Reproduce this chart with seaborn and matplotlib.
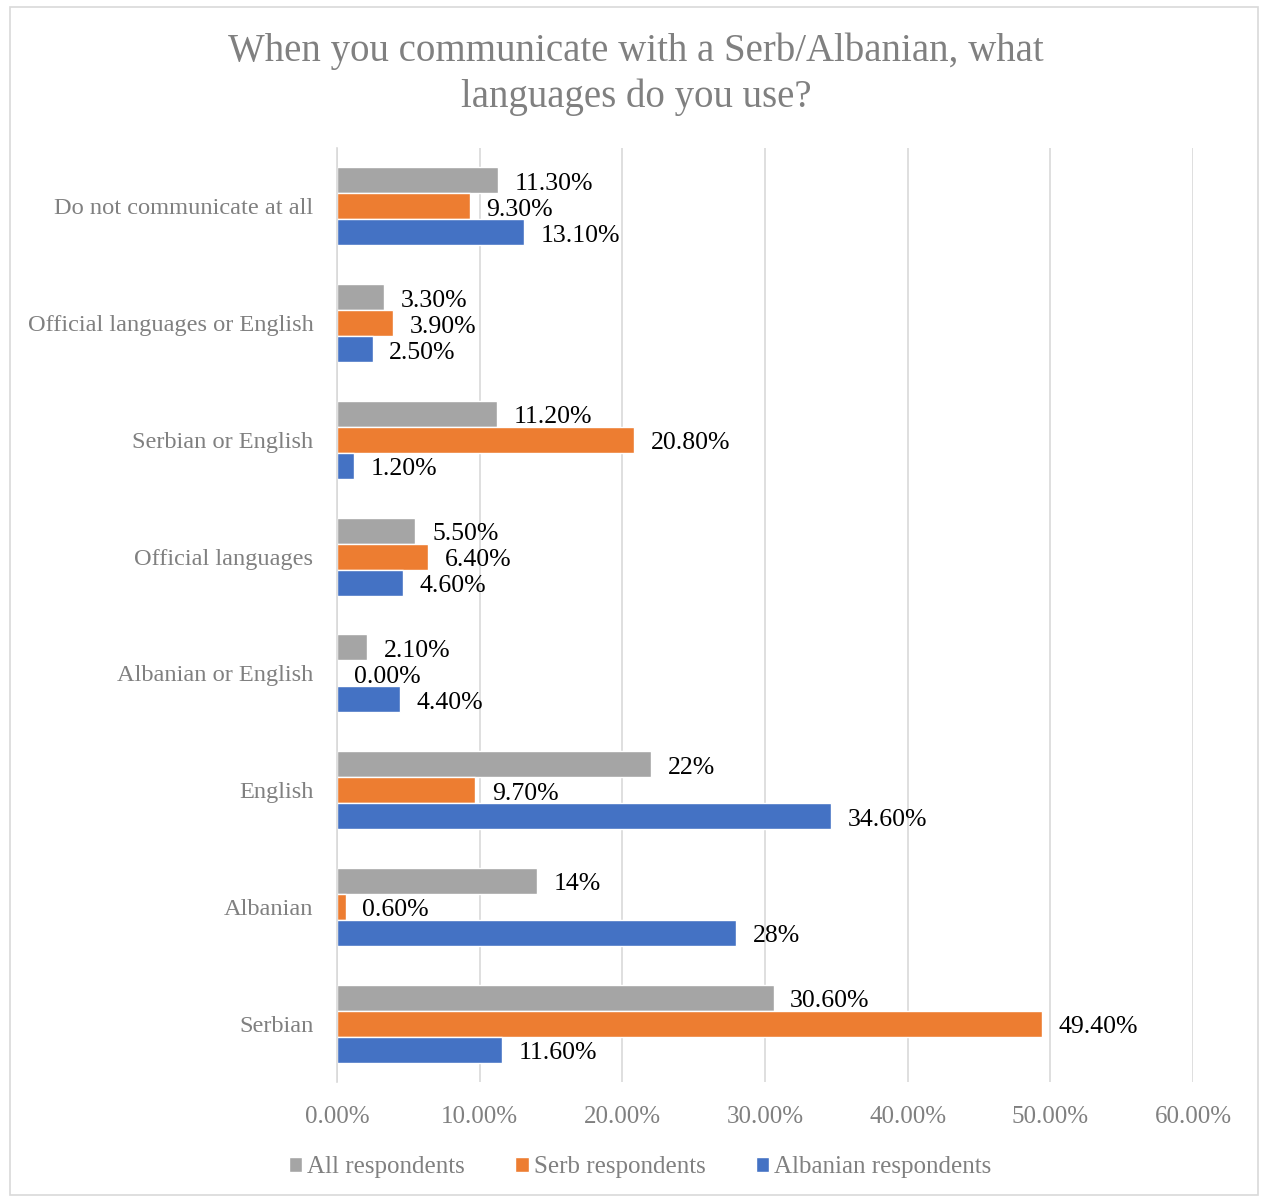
import matplotlib
matplotlib.use("Agg")
import matplotlib.pyplot as plt
from matplotlib.patches import Rectangle
import seaborn as sns
import pandas as pd

categories = [
    "Do not communicate at all",
    "Official languages or English",
    "Serbian or English",
    "Official languages",
    "Albanian or English",
    "English",
    "Albanian",
    "Serbian",
]
series_names = ["All respondents", "Serb respondents", "Albanian respondents"]
all_resp = [11.3, 3.3, 11.2, 5.5, 2.1, 22.0, 14.0, 30.6]
serb_resp = [9.3, 3.9, 20.8, 6.4, 0.0, 9.7, 0.6, 49.4]
alb_resp = [13.1, 2.5, 1.2, 4.6, 4.4, 34.6, 28.0, 11.6]
all_labels = ["11.30%", "3.30%", "11.20%", "5.50%", "2.10%", "22%", "14%", "30.60%"]
serb_labels = ["9.30%", "3.90%", "20.80%", "6.40%", "0.00%", "9.70%", "0.60%", "49.40%"]
alb_labels = ["13.10%", "2.50%", "1.20%", "4.60%", "4.40%", "34.60%", "28%", "11.60%"]
x_ticks = [0, 10, 20, 30, 40, 50, 60]
x_tick_labels = ["0.00%", "10.00%", "20.00%", "30.00%", "40.00%", "50.00%", "60.00%"]
colors = ["#A5A5A5", "#ED7D31", "#4472C4"]

df = pd.DataFrame({
    "category": categories * 3,
    "series": [series_names[0]] * 8 + [series_names[1]] * 8 + [series_names[2]] * 8,
    "value": all_resp + serb_resp + alb_resp,
})

sns.set_theme(style="white")
plt.rcParams["font.family"] = ["Liberation Serif", "DejaVu Serif"]

fig = plt.figure(figsize=(12.62, 12), dpi=100)
ax = fig.add_axes([337 / 1262, 1 - 1082 / 1200, (1193 - 337) / 1262, (1082 - 148) / 1200])

sns.barplot(data=df, y="category", x="value", hue="series", order=categories,
            hue_order=series_names, palette=colors, width=0.667, orient="h",
            saturation=1, ax=ax, legend=True)

# value labels at the end of each bar, nudged slightly downward
for container, labels in zip(ax.containers, [all_labels, serb_labels, alb_labels]):
    texts = ax.bar_label(container, labels=labels, padding=12, fontsize=18.5, color="black")
    for t in texts:
        dx, dy = t.xyann
        t.xyann = (dx, dy - 2.5)

ax.set_xlim(0, 60)
ax.set_xticks(x_ticks)
ax.set_xticklabels(x_tick_labels, fontsize=18, color="#808080")
ax.tick_params(axis="y", labelsize=17.6, labelcolor="#808080", pad=17, length=0)
ax.tick_params(axis="x", pad=17, length=0)
ax.set_xlabel("")
ax.set_ylabel("")
ax.grid(axis="x", color="#D9D9D9", linewidth=1.2)
ax.set_axisbelow(True)
for s in ["top", "right", "bottom"]:
    ax.spines[s].set_visible(False)
ax.spines["left"].set_color("#D9D9D9")
ax.spines["left"].set_linewidth(1.2)

handles, labels = ax.get_legend_handles_labels()
ax.get_legend().remove()
fig.legend(handles, labels, loc="center", bbox_to_anchor=(640 / 1262, 1 - 1167 / 1200),
           ncol=3, frameon=False, fontsize=18, labelcolor="#808080",
           handlelength=0.55, handleheight=0.55, handletextpad=0.2, columnspacing=2.0)

fig.text(636 / 1262, 1 - 74 / 1200,
         "When you communicate with a Serb/Albanian, what\nlanguages do you use?",
         ha="center", va="center", fontsize=28, color="#808080", linespacing=1.3)

fig.patches.append(Rectangle((10 / 1262, 5 / 1200), 1248 / 1262, 1188 / 1200,
                             transform=fig.transFigure, fill=False,
                             edgecolor="#D9D9D9", linewidth=1.2))

fig.savefig("out.png", dpi=100)
